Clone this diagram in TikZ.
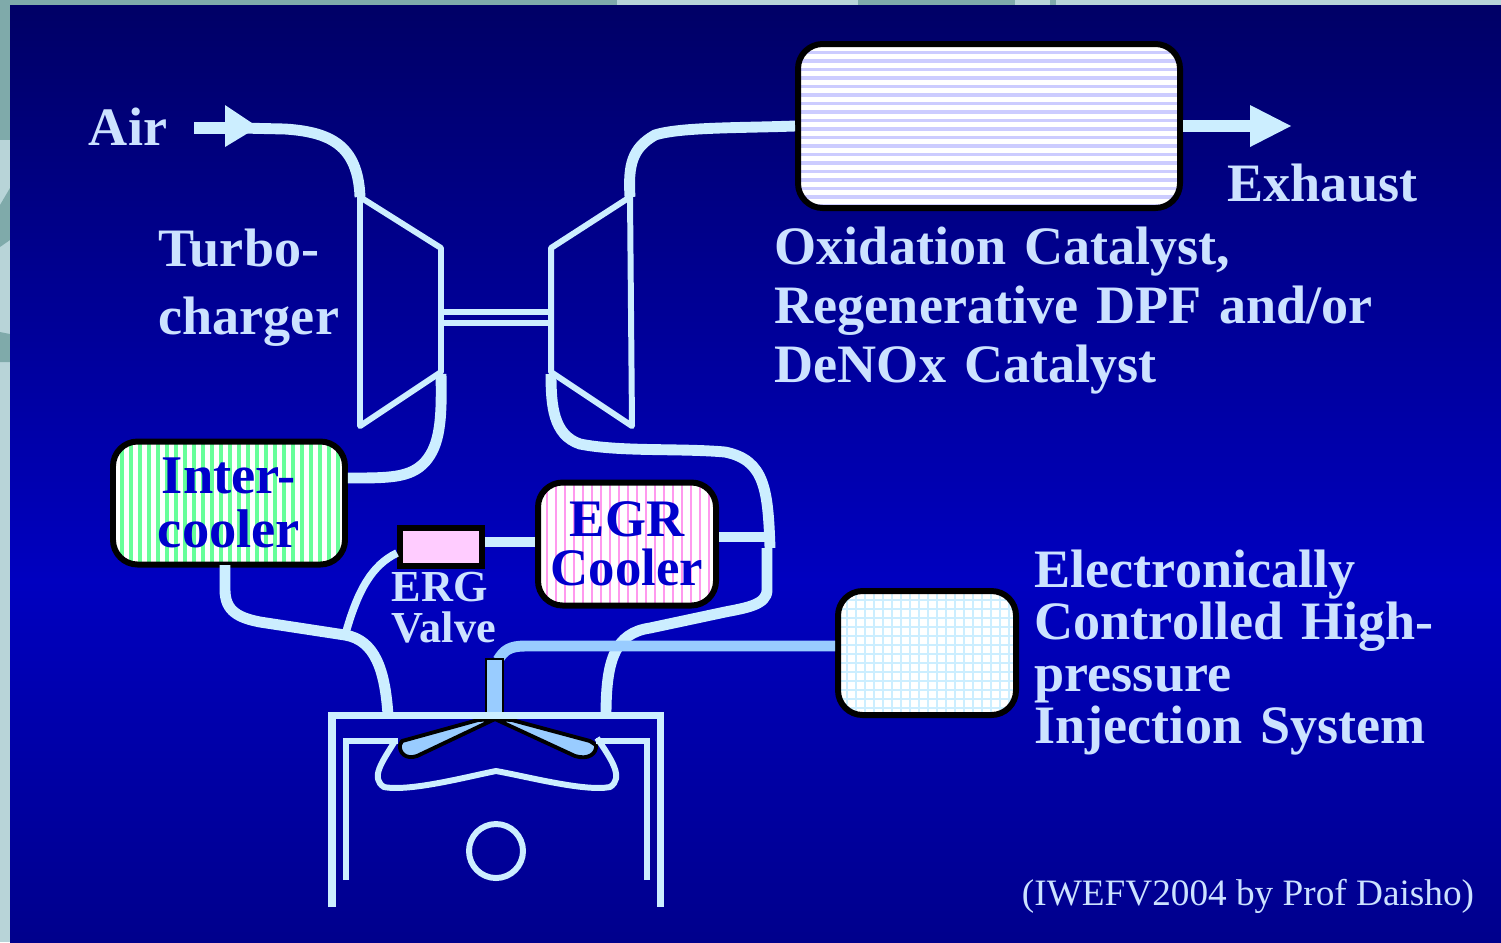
\documentclass[tikz,border=0pt]{standalone}
\usepackage{fontspec}
\setmainfont{Liberation Serif}
\usetikzlibrary{calc}
\definecolor{pipeblue}{HTML}{CCEEFF}
\definecolor{labelblue}{HTML}{CCE2FF}
\definecolor{fuelblue}{HTML}{99CCFF}
\definecolor{slidepale}{HTML}{B8D4D8}
\definecolor{slideteal}{HTML}{7FAAAA}
\definecolor{coolgreen}{HTML}{66FF99}
\definecolor{coolpink}{HTML}{FF99EE}
\definecolor{catblue}{HTML}{CCCCFF}
\definecolor{valvepink}{HTML}{FFCCFF}
\definecolor{boxtext}{HTML}{0000CC}
\definecolor{bgtop}{HTML}{000066}
\definecolor{bgmid}{HTML}{0000C0}
\definecolor{bgbot}{HTML}{00008C}
\tikzset{
  pipe/.style={draw=pipeblue, line width=3.1pt},
  fuelpipe/.style={draw=fuelblue, line width=3.1pt},
  thinline/.style={draw=pipeblue, line width=1.7pt},
  lbl/.style={text=labelblue, font=\bfseries\fontsize{15.4}{16.8}\selectfont, align=left, inner sep=0pt},
  unitbox/.style={draw=black, line width=1.7pt, rounded corners=7pt, fill=white, inner sep=0pt, minimum width=#1, text=boxtext, align=center},
  vstripes/.style={path picture={
    \foreach \sx in {0,9,...,240}
      \draw[#1] ($(path picture bounding box.north west)+(\sx,0)$) -- ($(path picture bounding box.south west)+(\sx,0)$);}},
  hstripes/.style={path picture={
    \foreach \sy in {0,8.5,...,170}
      \draw[catblue, line width=1.1pt] ($(path picture bounding box.north west)+(0,\sy)$) -- ($(path picture bounding box.north east)+(0,\sy)$);}},
  gridlines/.style={path picture={
    \foreach \sx in {0,9,...,180}
      \draw[pipeblue, line width=0.75pt] ($(path picture bounding box.north west)+(\sx,0)$) -- ($(path picture bounding box.south west)+(\sx,0)$);
    \foreach \sy in {0,9,...,130}
      \draw[pipeblue, line width=0.75pt] ($(path picture bounding box.north west)+(0,\sy)$) -- ($(path picture bounding box.north east)+(0,\sy)$);}},
}
\begin{document}
\begin{tikzpicture}[x=0.1mm, y=-0.1mm]
\useasboundingbox (0,0) rectangle (1501,942);
\fill[slidepale] (0,0) rectangle (1501,942);
\fill[slideteal] (0,0) rectangle (617,5);
\fill[slideteal] (858,0) rectangle (1015,5);
\fill[slideteal] (1050,0) rectangle (1056,5);
\fill[slideteal] (0,0) rectangle (10,140);
\fill[slideteal] (0,205) -- (10,188) -- (10,240) -- (0,247) -- cycle;
\fill[slideteal] (0,332) -- (10,334) -- (10,362) -- (0,362) -- cycle;
\shade[top color=bgtop, bottom color=bgmid] (10,5) rectangle (1501,581);
\shade[top color=bgmid, bottom color=bgbot] (10,580) rectangle (1501,942);

% units
\node[unitbox=382*0.1mm, minimum height=16.4mm, hstripes] (catalyst) at (989,126) {};
\node[unitbox=232*0.1mm, minimum height=12.3mm, vstripes={coolgreen, line width=1.1pt}, font=\bfseries\fontsize{15.5}{15.2}\selectfont] (intercooler) at (229,503) {Inter-\\cooler};
\node[unitbox=178*0.1mm, minimum height=12.3mm, vstripes={coolpink, line width=0.6pt}, font=\bfseries\fontsize{15}{14}\selectfont] (egrcooler) at (627,544) {EGR\\Cooler};
\node[unitbox=178*0.1mm, minimum height=12.4mm, gridlines] (injection) at (927,653) {};
\node[draw=black, line width=1.7pt, fill=valvepink, minimum width=8.2mm, minimum height=3.8mm, inner sep=0pt] (ergvalve) at (441,547) {};

% labels
\node[lbl] (air) at (128,127) {Air};
\node[lbl, anchor=west, font=\bfseries\fontsize{15.4}{19.3}\selectfont] (turbolabel) at (158,288) {Turbo-\\charger};
\node[lbl, anchor=west] (exhaust) at (1227,183) {Exhaust};
\node[lbl, anchor=west, text width=7cm] (catlabel) at (774,311) {Oxidation Catalyst,\\Regenerative DPF and/or\\DeNOx Catalyst};
\node[lbl, anchor=west, text width=5cm, font=\bfseries\fontsize{15.4}{14.8}\selectfont] (injlabel) at (1034,653) {Electronically\\Controlled High-\\pressure\\Injection System};
\node[lbl, anchor=west, font=\bfseries\fontsize{12.6}{11.6}\selectfont] (ergvalvelabel) at (391,608) {ERG\\Valve};
\node[text=labelblue, inner sep=0pt, font=\fontsize{10.6}{12}\selectfont] (credit) at (1248,896) {(IWEFV2004 by Prof Daisho)};

% turbocharger
\coordinate (comptop) at (360,197);
\coordinate (compout) at (441,374);
\coordinate (turbtop) at (630,197);
\coordinate (turbin) at (551,374);
\draw[thinline, line join=round] (comptop) -- (441,248) -- (441,372) -- (360,426) -- cycle;
\draw[thinline, line join=round] (turbtop) -- (551,248) -- (551,372) -- (632,426) -- cycle;
\draw[thinline] (441,312) -- (551,312);
\draw[thinline] (441,323) -- (551,323);

% pipes
\coordinate (airin) at (194,128);
\coordinate (airtip) at (258,127);
\coordinate (exhtip) at (1291,126);
\fill[pipeblue] (225,105) -- (airtip) -- (225,147) -- cycle;
\draw[pipe, line width=3.4pt] (airin) -- (230,128);
\draw[pipe] (240,128) -- (285,129) .. controls (330,132) and (358,145) .. (comptop);
\draw[pipe] (turbtop) .. controls (628,165) and (632,148) .. (655,135) .. controls (680,127) and (740,128) .. (catalyst.west);
\fill[pipeblue] (1250,105) -- (exhtip) -- (1250,147) -- cycle;
\draw[pipe, line width=3.4pt] (catalyst.east |- 0,126) -- (1252,126);
\draw[pipe] (compout) .. controls (442,420) and (440,445) .. (425,462) .. controls (410,478) and (390,478) .. (intercooler.east |- 0,478);
\draw[pipe] (turbin) .. controls (551,405) and (553,435) .. (580,444) .. controls (620,452) and (680,448) .. (725,452) .. controls (765,460) and (768,490) .. (770,548);
\draw[pipe] (egrcooler.east |- 0,537) -- (770,537);
\draw[pipe] (767,548) -- (767,590) .. controls (767,605) and (745,608) .. (725,612) -- (650,628) .. controls (615,633) and (606,660) .. (606,715);
\draw[pipe] (225,565) -- (225,590) .. controls (225,612) and (240,618) .. (260,622) -- (345,635) .. controls (375,640) and (385,670) .. (388,715);
\draw[pipe, line width=2.2pt] (346,632) .. controls (358,590) and (372,565) .. (ergvalve.west |- 0,553);
\draw[pipe] (ergvalve.east |- 0,542) -- (egrcooler.west |- 0,542);

% engine
\draw[fuelpipe] (injection.west |- 0,646) -- (525,646) .. controls (510,646) and (504,650) .. (498,660);
\coordinate (wedgeapex) at (495,719);
\draw[draw=black, line width=1.1pt, fill=fuelblue, line join=round] (402,741) -- (478,720) -- (wedgeapex) -- (417,756) .. controls (405,760) and (399,752) .. (400,745) -- cycle;
\draw[draw=black, line width=1.1pt, fill=fuelblue, line join=round] (590,741) -- (512,720) -- (wedgeapex) -- (575,756) .. controls (588,760) and (597,754) .. (596,745) -- cycle;
\draw[draw=black, line width=0.7pt, fill=fuelblue] (486,716) rectangle (503,659);
\draw[thinline, line width=2pt] (332,907) -- (332,715) -- (660,715) -- (660,907);
\draw[thinline] (346,880) -- (346,741) -- (398,741);
\draw[thinline] (647,880) -- (647,741) -- (596,741);
\draw[thinline, line join=round] (395,741) .. controls (382,762) and (370,778) .. (384,787) .. controls (410,792) and (470,776) .. (496,771) .. controls (525,776) and (585,792) .. (610,787) .. controls (624,778) and (612,760) .. (597,738);
\node[draw=pipeblue, line width=1.7pt, circle, minimum size=5.4mm, inner sep=0pt] (pin) at (496,851) {};
\end{tikzpicture}
\end{document}
